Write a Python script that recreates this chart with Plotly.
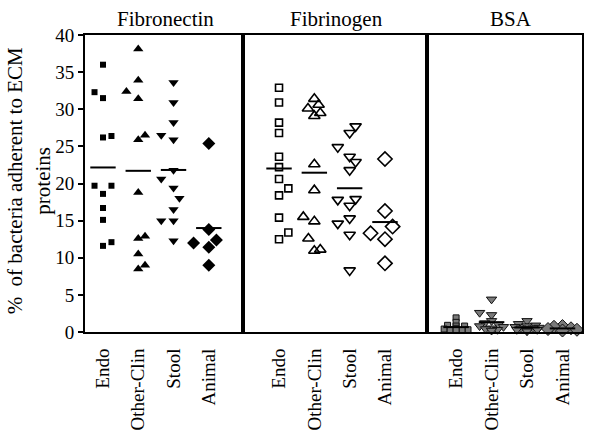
import numpy as np
import plotly.graph_objects as go
from plotly.subplots import make_subplots

categories = ["Endo", "Other-Clin", "Stool", "Animal"]
panels = ["Fibronectin", "Fibrinogen", "BSA"]

# % adherent values per panel / category
fn_endo = [36.0, 32.3, 31.5, 26.2, 26.4, 19.7, 19.7, 18.6, 16.7, 15.1, 11.6, 12.1]
fn_other = [38.1, 33.9, 32.4, 31.4, 25.9, 26.5, 18.8, 12.6, 12.9, 10.5, 8.5, 9.0]
fn_stool = [33.6, 30.9, 28.2, 26.5, 25.9, 21.8, 20.6, 19.4, 18.0, 16.5, 15.0, 15.0, 12.3]
fn_animal = [25.4, 13.8, 12.4, 12.0, 11.4, 9.0]

fg_endo = [32.9, 30.9, 28.2, 26.8, 23.6, 22.2, 20.6, 19.35, 18.4, 15.4, 13.4, 12.5]
fg_other = [31.4, 30.6, 30.1, 29.5, 29.1, 22.6, 19.1, 15.5, 14.9, 12.6, 10.95, 11.1]
fg_stool = [27.7, 26.8, 24.9, 23.6, 22.9, 21.8, 17.8, 17.9, 17.0, 14.6, 15.3, 13.1, 8.3]
fg_animal = [23.3, 16.3, 14.2, 13.3, 12.5, 9.25]

bsa_endo = [1.9, 1.3, 0.9, 0.8, 0.8, 0.5, 0.4, 0.3, 0.3, 0.3, 0.2, 0.2]
bsa_other = [4.4, 2.6, 2.3, 1.5, 1.2, 1.0, 0.8, 0.7, 0.5, 0.4, 0.3, 0.2]
bsa_stool = [1.5, 1.1, 0.9, 0.8, 0.7, 0.6, 0.5, 0.5, 0.4, 0.3, 0.3, 0.2, 0.1]
bsa_animal = [0.8, 0.7, 0.5, 0.4, 0.3, 0.2]

# horizontal scatter slots (jitter, in marker widths) for overlapping points
fn_endo_slot = [0, -1, 0, 0, 1, -1, 1, 0, 0, 0, 0, 1]
fn_other_slot = [0, 0, -1.4, 0, 0, 0.8, 0, 0, 0.8, 0, 0, 0.8]
fn_stool_slot = [0, 0, 0, -1.45, 0, 0, -1.45, 0, 0.7, 0, -1.45, 0, 0]
fn_animal_slot = [0, 0, 0.9, -1.8, 0, 0]

fg_endo_slot = [0, 0, 0, 0, 0, 0, 0, 1.1, 0, 0, 1.1, 0]
fg_other_slot = [0, 0.5, -0.75, 0.7, 0, 0, 0, -1.3, 0, -0.7, 0, 0.7]
fg_stool_slot = [0.7, 0, -1.4, 0, 0.7, 0, -1.4, 0.7, 0, -1.4, 0, 0, 0]
fg_animal_slot = [0, 0, 0.9, -1.7, 0, 0]

bsa_endo_slot = [0, 0, -1, 0, 1, 0, -1.4, 0, 1.4, -0.7, 0.7, 0]
bsa_other_slot = [0, -1.4, 0, 0, -0.8, 0.8, -1.4, 1.4, 0, -0.7, 0.7, 0]
bsa_stool_slot = [0, -1, 1, 0, -1.4, 1.4, -0.7, 0.7, 0, -1.2, 1.2, 0, 0]
bsa_animal_slot = [0, -1, 1, -1.7, 1.7, 0]

data = [
    [(fn_endo, fn_endo_slot), (fn_other, fn_other_slot), (fn_stool, fn_stool_slot), (fn_animal, fn_animal_slot)],
    [(fg_endo, fg_endo_slot), (fg_other, fg_other_slot), (fg_stool, fg_stool_slot), (fg_animal, fg_animal_slot)],
    [(bsa_endo, bsa_endo_slot), (bsa_other, bsa_other_slot), (bsa_stool, bsa_stool_slot), (bsa_animal, bsa_animal_slot)],
]

symbols = [
    ["square", "triangle-up", "triangle-down", "diamond"],
    ["square-open", "triangle-up-open", "triangle-down-open", "diamond-open"],
    ["square", "triangle-down", "triangle-down", "diamond"],
]
sizes = [[6, 9, 9, 10], [7, 10, 10, 11], [6, 9, 9, 10]]

SLOT = 0.24
HALF = 0.36
FONT = "Times New Roman, Liberation Serif, serif"

fig = make_subplots(rows=1, cols=3, shared_yaxes=True, horizontal_spacing=0,
                    column_widths=[158, 184, 155])

for p in range(3):
    col = p + 1
    for c in range(4):
        vals, slots = data[p][c]
        xs = [c + s * SLOT for s in slots]
        if p == 2:
            marker = dict(symbol=symbols[p][c], size=sizes[p][c], color="#7a7a7a",
                          line=dict(color="#111111", width=1))
        elif p == 1:
            marker = dict(symbol=symbols[p][c], size=sizes[p][c], color="black",
                          line=dict(color="black", width=1.6))
        else:
            marker = dict(symbol=symbols[p][c], size=sizes[p][c], color="black",
                          line=dict(width=0))
        fig.add_trace(go.Scatter(x=xs, y=vals, mode="markers", marker=marker,
                                 cliponaxis=False, showlegend=False), row=1, col=col)
        m = float(np.mean(vals))
        fig.add_trace(go.Scatter(x=[c - HALF, c + HALF], y=[m, m], mode="lines",
                                 line=dict(color="black", width=2),
                                 cliponaxis=False, showlegend=False), row=1, col=col)

xranges = [[-0.51, 3.97], [-1.02, 4.19], [-0.82, 3.55]]
for p in range(3):
    fig.update_xaxes(range=xranges[p], tickvals=[0, 1, 2, 3], ticktext=categories,
                     tickangle=-90, ticks="", showline=True, mirror=True,
                     linecolor="black", linewidth=2, showgrid=False, zeroline=False,
                     automargin=False,
                     tickfont=dict(family=FONT, size=19, color="black"),
                     ticklabelstandoff=7, row=1, col=p + 1)

fig.update_yaxes(range=[0, 40], dtick=5, showline=True, mirror=True, linecolor="black",
                 linewidth=2, showgrid=False, zeroline=False, automargin=False)
fig.update_yaxes(ticks="outside", ticklen=5, tickwidth=1.5, tickcolor="black",
                 tickfont=dict(family=FONT, size=19, color="black"), row=1, col=1)
fig.update_yaxes(ticks="", showticklabels=False, row=1, col=2)
fig.update_yaxes(ticks="", showticklabels=False, row=1, col=3)

title_pos = [0.51, 0.51, 0.54]
refs = ["x domain", "x2 domain", "x3 domain"]
for p in range(3):
    fig.add_annotation(text=panels[p], xref=refs[p], yref="paper", x=title_pos[p], y=1,
                       xanchor="center", yanchor="bottom", yshift=2, showarrow=False,
                       font=dict(family=FONT, size=21, color="black"))

fig.add_annotation(text="%  of bacteria adherent to ECM<br>proteins", textangle=-90,
                   xref="paper", yref="paper", x=-0.113, y=0.51, xanchor="center",
                   yanchor="middle", showarrow=False,
                   font=dict(family=FONT, size=21, color="black"))

fig.update_layout(width=600, height=434, margin=dict(l=85, r=18, t=35, b=102),
                  plot_bgcolor="white", paper_bgcolor="white",
                  font=dict(family=FONT, color="black"))

fig.write_html("out.html", config={"displayModeBar": False},
               post_script="document.body.style.margin='0';document.body.style.padding='0';")
